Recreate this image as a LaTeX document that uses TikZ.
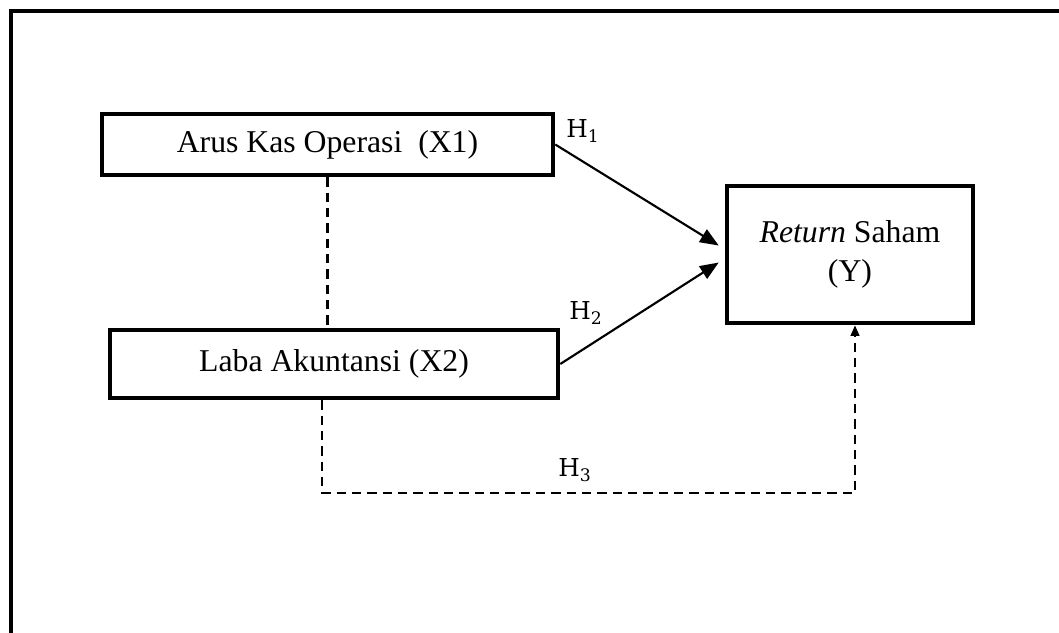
\documentclass[tikz,border=0pt]{standalone}
\usepackage{fontspec}
\setmainfont{Liberation Serif}
\newfontfamily\hfont{DejaVu Serif}
\usetikzlibrary{arrows.meta,calc}
\begin{document}
\begin{tikzpicture}[x=0.75pt,y=-0.75pt,
  varbox/.style={draw,line width=3.4pt,rectangle,inner sep=0pt,align=center,
    font=\fontsize{23.8}{29}\selectfont},
  hlabel/.style={font=\hfont\fontsize{18.5}{22}\selectfont,inner sep=0pt},
  solidarrow/.style={line width=1.6pt,-{Triangle[length=14pt,width=11pt]}},
  dashline/.style={line width=1.6pt,dash pattern=on 7pt off 4.5pt},
  dasharrow/.style={dashline,-{Triangle[length=8pt,width=6.5pt]}}]
\useasboundingbox (0,0) rectangle (1059,632);
% outer frame (right and bottom sides lie beyond the picture)
\draw[line width=3pt] (11,640) -- (11,11) -- (1070,11);
% variables
\node[varbox,minimum width=338.25pt,minimum height=45.75pt] (X1) at (327.5,144.5) {Arus Kas Operasi\ \ (X1)};
\node[varbox,minimum width=336pt,minimum height=51pt] (X2) at (334,364) {Laba Akuntansi (X2)};
\node[varbox,minimum width=184.5pt,minimum height=102.75pt] (Y) at (850,254.5) {\textit{Return} Saham\\(Y)};
% hypothesis arrows
\draw[solidarrow] (X1.east) -- ($(Y.west)+(-6,-9)$);
\draw[solidarrow] (X2.east) -- ($(Y.west)+(-6,8)$);
% correlation line
\draw[dashline] (X1.south) -- (X1.south |- X2.north);
% H3 path
\coordinate (c1) at (322,493);
\coordinate (c2) at (855,493);
\draw[dasharrow] (X2.south -| c1) -- (c1) -- (c2) -- (c2 |- Y.south);
% labels
\node[hlabel] (h1) at (583,131) {H\textsubscript{1}};
\node[hlabel] (h2) at (586,313) {H\textsubscript{2}};
\node[hlabel] (h3) at (575,470) {H\textsubscript{3}};
\end{tikzpicture}
\end{document}
